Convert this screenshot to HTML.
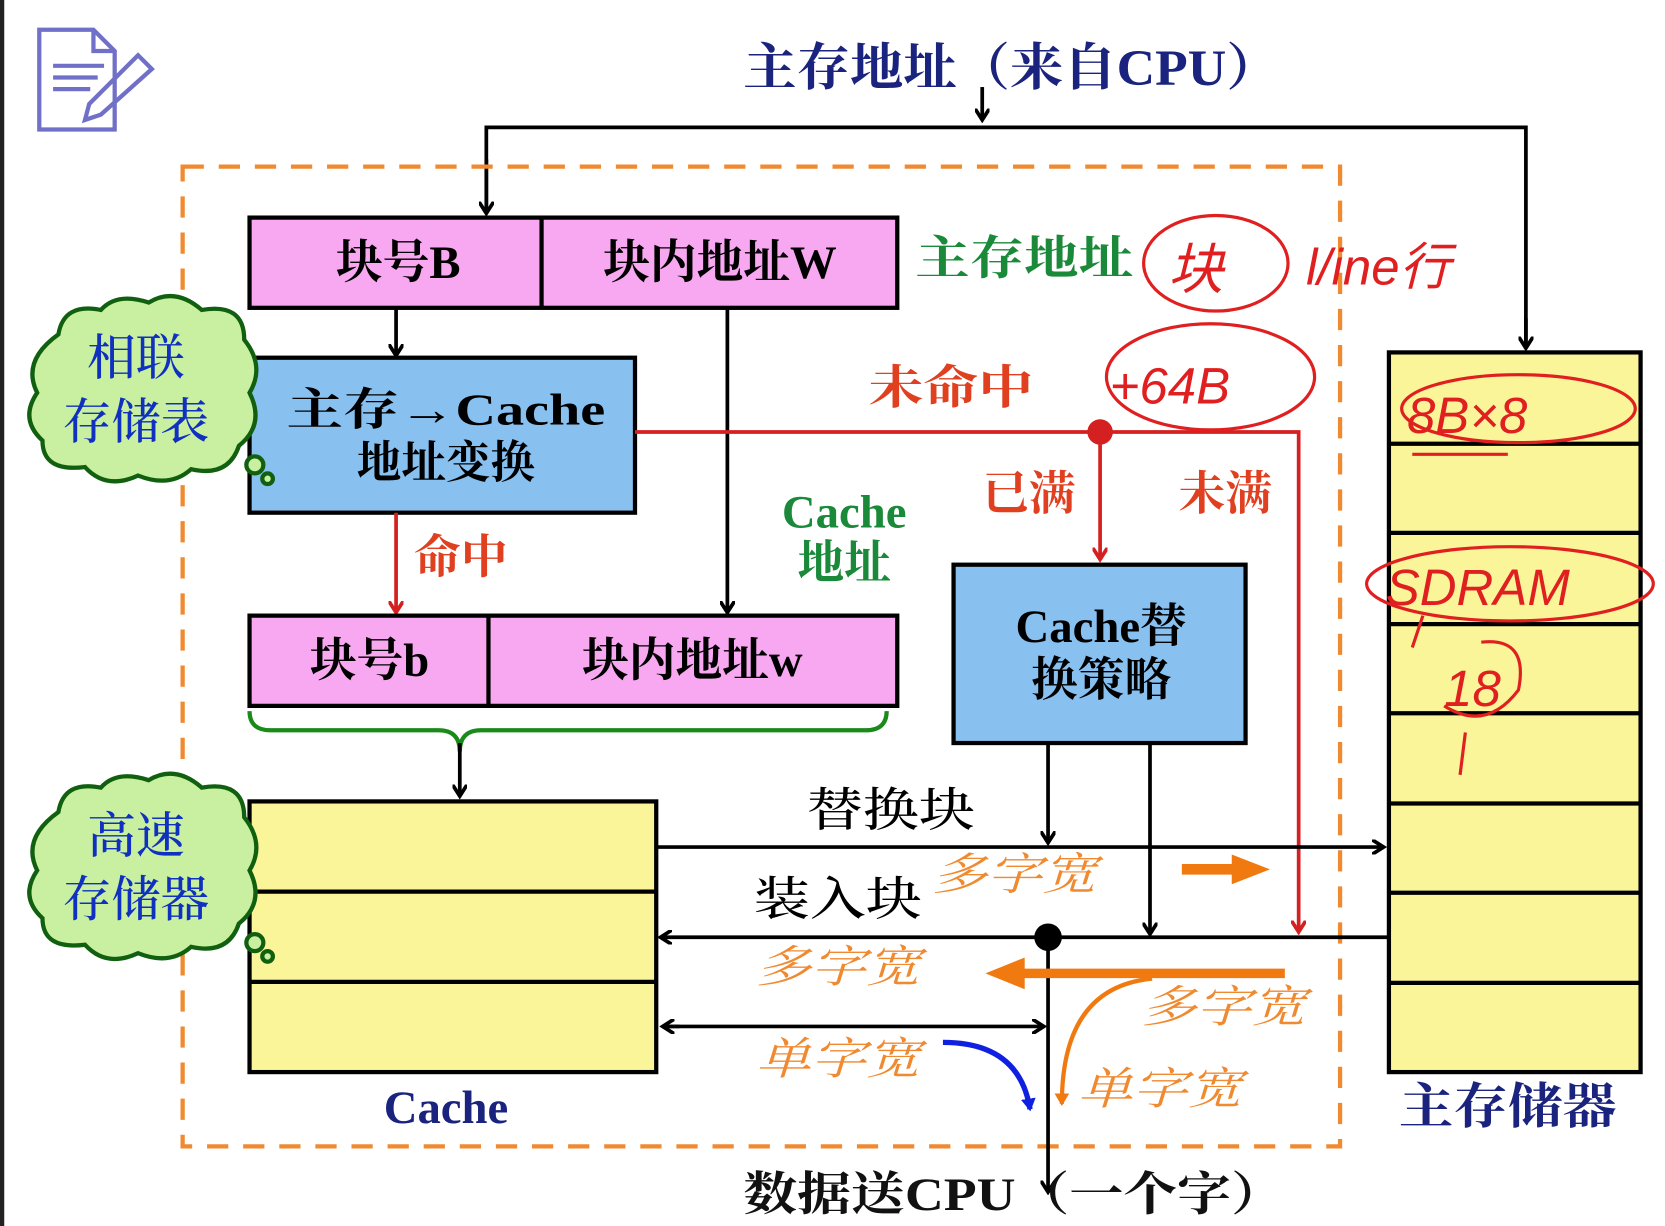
<!DOCTYPE html>
<html><head><meta charset="utf-8"><style>
html,body{margin:0;padding:0;background:#fff;}
svg{display:block;}
.s{font-family:"Liberation Serif","Noto Serif CJK SC",serif;font-weight:bold;}
.o{font-family:"Liberation Serif","Noto Serif CJK SC",serif;font-style:italic;fill:#f08a30;font-size:42px;}
</style></head><body>
<svg width="1665" height="1226" viewBox="0 0 1568 1155" preserveAspectRatio="none" xmlns="http://www.w3.org/2000/svg">
<defs>
<marker id="ab" markerWidth="14" markerHeight="14" refX="11" refY="7" orient="auto" markerUnits="userSpaceOnUse"><path d="M0,0 L11,7 L0,14" fill="none" stroke="#000" stroke-width="3.5"/></marker>
<marker id="ar" markerWidth="14" markerHeight="14" refX="11" refY="7" orient="auto" markerUnits="userSpaceOnUse"><path d="M0,0 L11,7 L0,14" fill="none" stroke="#d42020" stroke-width="3.5"/></marker>
<marker id="ao" markerWidth="14" markerHeight="14" refX="10" refY="7" orient="auto" markerUnits="userSpaceOnUse"><path d="M0,0 L12,7 L0,14 Z" fill="#f07a10"/></marker>
<marker id="abl" markerWidth="14" markerHeight="14" refX="10" refY="7" orient="auto" markerUnits="userSpaceOnUse"><path d="M0,0 L12,7 L0,14 Z" fill="#1020e0"/></marker>
</defs>
<rect x="0" y="0" width="4" height="1155" fill="#222"/>
<g fill="none" stroke="#7070c8" stroke-width="4">
<path d="M37,28 H88 L108,48 V122 H37 Z"/><path d="M88,28 V48 H108"/>
<path d="M50,62 H98 M50,73 H92 M50,84 H85"/>
<path d="M130,52 L143,65 L95,108 L80,113 L84,98 Z"/>
</g>
<text x="700" y="80" class="s" font-size="48" fill="#1a237e" textLength="505" lengthAdjust="spacingAndGlyphs">主存地址（来自CPU）</text>
<g stroke="#000" stroke-width="3.5" fill="none">
<line x1="925" y1="82" x2="925" y2="113" marker-end="url(#ab)"/>
<polyline points="458,200 458,120 1437,120 1437,327" />
<line x1="458" y1="150" x2="458" y2="201" marker-end="url(#ab)"/>
<line x1="1437" y1="300" x2="1437" y2="328" marker-end="url(#ab)"/>
</g>
<rect x="172" y="157" width="1090" height="923" fill="none" stroke="#f08a30" stroke-width="4" stroke-dasharray="20,14"/>
<rect x="235" y="205" width="610" height="85" fill="#f8a8f0" stroke="#000" stroke-width="4"/>
<line x1="510" y1="205" x2="510" y2="290" stroke="#000" stroke-width="4"/>
<text x="375" y="262" class="s" font-size="44" text-anchor="middle">块号B</text>
<text x="678" y="262" class="s" font-size="44" text-anchor="middle">块内地址W</text>
<text x="862" y="258" class="s" font-size="44" fill="#1a8a3a" textLength="205" lengthAdjust="spacingAndGlyphs">主存地址</text>
<g stroke="#000" stroke-width="3.5" fill="none">
<line x1="373" y1="290" x2="373" y2="335" marker-end="url(#ab)"/>
<line x1="685" y1="290" x2="685" y2="577" marker-end="url(#ab)"/>
</g>
<rect x="235" y="337" width="363" height="146" fill="#88c0f0" stroke="#000" stroke-width="4"/>
<text x="420" y="400" class="s" font-size="42" text-anchor="middle" textLength="300" lengthAdjust="spacingAndGlyphs">主存→Cache</text>
<text x="420" y="450" class="s" font-size="42" text-anchor="middle">地址变换</text>
<g stroke="#d42020" stroke-width="3.5" fill="none">
<polyline points="598,407 1223,407 1223,878" marker-end="url(#ar)"/>
<line x1="1036" y1="407" x2="1036" y2="527" marker-end="url(#ar)"/>
<line x1="373" y1="483" x2="373" y2="577" marker-end="url(#ar)"/>
</g>
<circle cx="1036" cy="407" r="12" fill="#d42020"/>
<text x="818" y="380" class="s" font-size="44" fill="#e04020" textLength="155" lengthAdjust="spacingAndGlyphs">未命中</text>
<text x="925" y="480" class="s" font-size="44" fill="#e04020">已满</text>
<text x="1110" y="480" class="s" font-size="44" fill="#e04020">未满</text>
<text x="390" y="540" class="s" font-size="44" fill="#e04020">命中</text>
<text x="795" y="497" class="s" font-size="44" fill="#1a8a3a" text-anchor="middle">Cache</text>
<text x="795" y="545" class="s" font-size="44" fill="#1a8a3a" text-anchor="middle">地址</text>
<rect x="235" y="580" width="610" height="85" fill="#f8a8f0" stroke="#000" stroke-width="4"/>
<line x1="460" y1="580" x2="460" y2="665" stroke="#000" stroke-width="4"/>
<text x="348" y="637" class="s" font-size="44" text-anchor="middle">块号b</text>
<text x="652" y="637" class="s" font-size="44" text-anchor="middle">块内地址w</text>
<path d="M235,670 Q235,688 255,688 H413 Q433,688 433,708 Q433,688 453,688 H815 Q835,688 835,670" fill="none" stroke="#1a8a1a" stroke-width="4"/>
<line x1="433" y1="700" x2="433" y2="750" stroke="#000" stroke-width="3.5" marker-end="url(#ab)"/>
<rect x="898" y="532" width="275" height="168" fill="#88c0f0" stroke="#000" stroke-width="4"/>
<text x="1037" y="605" class="s" font-size="44" text-anchor="middle">Cache替</text>
<text x="1037" y="655" class="s" font-size="44" text-anchor="middle">换策略</text>
<rect x="235" y="755" width="383" height="255" fill="#fbf59a" stroke="#000" stroke-width="4"/>
<line x1="235" y1="840" x2="618" y2="840" stroke="#000" stroke-width="4"/>
<line x1="235" y1="925" x2="618" y2="925" stroke="#000" stroke-width="4"/>
<text x="420" y="1058" class="s" font-size="44" fill="#1a237e" text-anchor="middle">Cache</text>
<rect x="1308" y="332" width="237" height="678" fill="#fbf59a" stroke="#000" stroke-width="4"/>
<g stroke="#000" stroke-width="4">
<line x1="1308" y1="418" x2="1545" y2="418"/><line x1="1308" y1="502" x2="1545" y2="502"/>
<line x1="1308" y1="588" x2="1545" y2="588"/><line x1="1308" y1="672" x2="1545" y2="672"/>
<line x1="1308" y1="757" x2="1545" y2="757"/><line x1="1308" y1="841" x2="1545" y2="841"/>
<line x1="1308" y1="926" x2="1545" y2="926"/>
</g>
<text x="1420" y="1058" class="s" font-size="46" fill="#1a237e" text-anchor="middle" textLength="205" lengthAdjust="spacingAndGlyphs">主存储器</text>
<g stroke="#000" stroke-width="3.5" fill="none">
<line x1="618" y1="798" x2="1303" y2="798" marker-end="url(#ab)"/>
<line x1="987" y1="700" x2="987" y2="794" marker-end="url(#ab)"/>
<line x1="1083" y1="700" x2="1083" y2="880" marker-end="url(#ab)"/>
<line x1="1308" y1="883" x2="622" y2="883" marker-end="url(#ab)"/>
<line x1="987" y1="883" x2="987" y2="1123" marker-end="url(#ab)"/>
<line x1="630" y1="967" x2="983" y2="967" marker-end="url(#ab)"/>
<line x1="640" y1="967" x2="624" y2="967" marker-end="url(#ab)"/>
</g>
<circle cx="987" cy="883" r="13" fill="#000"/>
<text x="760" y="778" class="s" font-size="44" style="font-weight:500" textLength="158" lengthAdjust="spacingAndGlyphs">替换块</text>
<text x="710" y="862" class="s" font-size="44" style="font-weight:500" textLength="158" lengthAdjust="spacingAndGlyphs">装入块</text>
<text x="700" y="1140" class="s" font-size="44" fill="#111" textLength="510" lengthAdjust="spacingAndGlyphs">数据送CPU（一个字）</text>
<text x="878" y="838" class="o" textLength="155" lengthAdjust="spacingAndGlyphs">多字宽</text>
<text x="712" y="925" class="o" textLength="155" lengthAdjust="spacingAndGlyphs">多字宽</text>
<text x="1075" y="963" class="o" textLength="155" lengthAdjust="spacingAndGlyphs">多字宽</text>
<text x="712" y="1012" class="o" textLength="155" lengthAdjust="spacingAndGlyphs">单字宽</text>
<text x="1015" y="1040" class="o" textLength="155" lengthAdjust="spacingAndGlyphs">单字宽</text>
<line x1="1113" y1="819" x2="1165" y2="819" stroke="#f07a10" stroke-width="10"/>
<polygon points="1160,805 1196,819 1160,833" fill="#f07a10"/>
<line x1="1210" y1="917" x2="960" y2="917" stroke="#f07a10" stroke-width="9"/>
<polygon points="965,902 928,917 965,932" fill="#f07a10"/>
<path d="M1085,922 Q1000,930 1000,1040" fill="none" stroke="#f07a10" stroke-width="4" marker-end="url(#ao)"/>
<path d="M888,982 Q960,982 970,1045" fill="none" stroke="#1020e0" stroke-width="5" marker-end="url(#abl)"/>
<g fill="#c8f0a0" stroke="#106010" stroke-width="4">
<path d="M55,315 Q60,285 95,292 Q110,275 140,285 Q165,270 190,292 Q230,285 230,320 Q250,345 235,370 Q250,400 225,420 Q215,450 180,442 Q160,460 130,448 Q100,462 80,440 Q40,445 40,415 Q18,395 35,370 Q20,340 55,315 Z"/>
<circle cx="240" cy="438" r="8"/><circle cx="252" cy="451" r="5"/>
<path d="M55,765 Q60,735 95,742 Q110,725 140,735 Q165,720 190,742 Q230,735 230,770 Q250,795 235,820 Q250,850 225,870 Q215,900 180,892 Q160,910 130,898 Q100,912 80,890 Q40,895 40,865 Q18,845 35,820 Q20,790 55,765 Z"/>
<circle cx="240" cy="888" r="8"/><circle cx="252" cy="901" r="5"/>
</g>
<g font-family="'Liberation Serif','Noto Serif CJK SC',serif" font-size="46" fill="#1030c0" text-anchor="middle" font-weight="500">
<text x="128" y="353">相联</text><text x="128" y="413">存储表</text>
<text x="128" y="803">高速</text><text x="128" y="863">存储器</text>
</g>
<g fill="none" stroke="#e02020" stroke-width="3">
<ellipse cx="1145" cy="248" rx="68" ry="45"/>
<ellipse cx="1140" cy="355" rx="98" ry="50"/>
<ellipse cx="1430" cy="385" rx="110" ry="32"/>
<ellipse cx="1422" cy="550" rx="135" ry="35"/>
<path d="M1340,580 L1330,610 M1395,605 Q1440,600 1430,650 Q1400,690 1360,665 M1380,690 L1375,730"/>
<path d="M1330,428 H1420"/>
</g>
<g font-family="'Liberation Sans',sans-serif" font-style="italic" fill="#e02020" font-size="48">
<text x="1100" y="272" font-size="52">块</text>
<text x="1230" y="268">l/ine行</text>
<text x="1045" y="380">+64B</text>
<text x="1325" y="408">8B×8</text>
<text x="1305" y="570">SDRAM</text>
<text x="1360" y="665">18</text>
</g>
</svg>
</body></html>
